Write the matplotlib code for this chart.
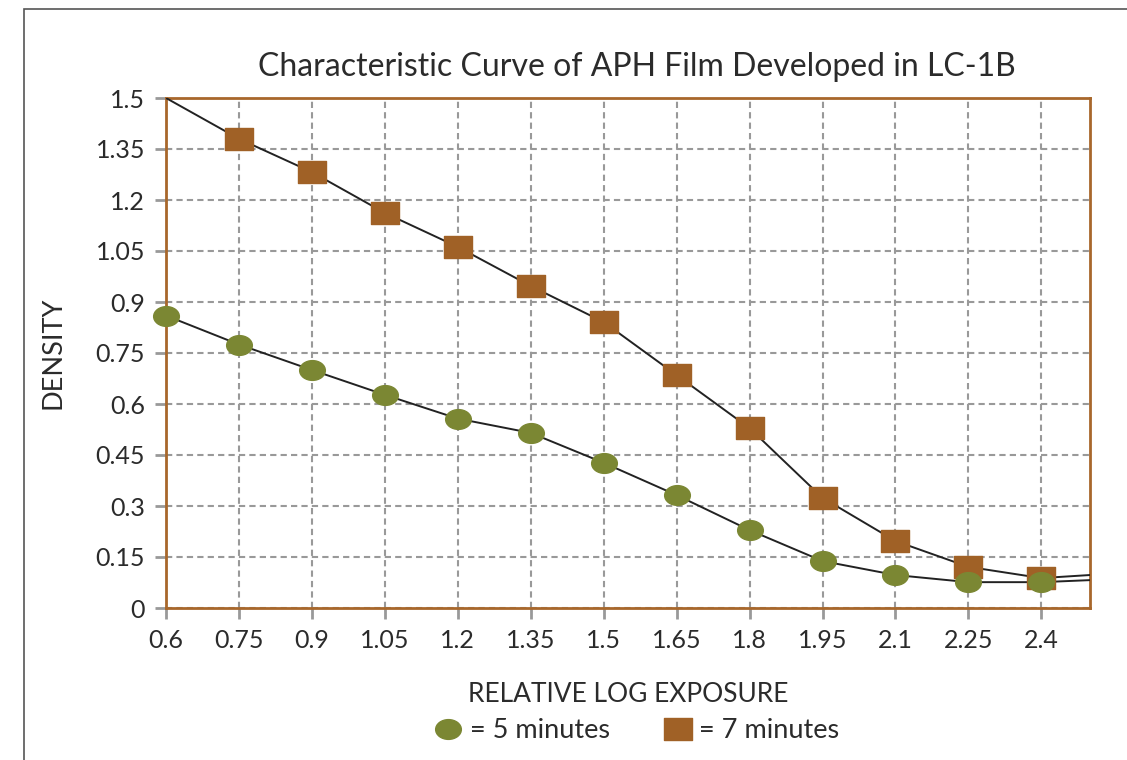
import numpy as np
import matplotlib.pyplot as plt
from matplotlib.path import Path
from matplotlib.patches import Rectangle
from matplotlib.lines import Line2D
import matplotlib.transforms as mtransforms

plt.rcParams['font.family'] = ['Lato', 'DejaVu Sans']

# data
x_5min = [0.6, 0.75, 0.9, 1.05, 1.2, 1.35, 1.5, 1.65, 1.8, 1.95, 2.1, 2.25, 2.4]
d_5min = [0.86, 0.775, 0.70, 0.627, 0.557, 0.515, 0.427, 0.332, 0.229, 0.138, 0.097, 0.076, 0.076]
x_7min = [0.75, 0.9, 1.05, 1.2, 1.35, 1.5, 1.65, 1.8, 1.95, 2.1, 2.25, 2.4]
d_7min = [1.38, 1.282, 1.162, 1.062, 0.947, 0.841, 0.685, 0.529, 0.324, 0.197, 0.121, 0.088]
# curve ends (no markers drawn there)
line7_start = (0.6, 1.5)
line7_end = (2.5, 0.097)
line5_end = (2.5, 0.082)

xticks = [0.6, 0.75, 0.9, 1.05, 1.2, 1.35, 1.5, 1.65, 1.8, 1.95, 2.1, 2.25, 2.4]
xtick_labels = ['0.6', '0.75', '0.9', '1.05', '1.2', '1.35', '1.5', '1.65', '1.8', '1.95', '2.1', '2.25', '2.4']
yticks = [0, 0.15, 0.3, 0.45, 0.6, 0.75, 0.9, 1.05, 1.2, 1.35, 1.5]
ytick_labels = ['0', '0.15', '0.3', '0.45', '0.6', '0.75', '0.9', '1.05', '1.2', '1.35', '1.5']

green = '#7b8733'
brown = '#a06126'
frame = '#a8672b'
text_c = '#2b2b2b'
grid_c = '#999999'

ellipse = Path.unit_circle().transformed(mtransforms.Affine2D().scale(1.3, 1.0))
rect = Path([(-1, -0.82), (1, -0.82), (1, 0.82), (-1, 0.82), (-1, -0.82)],
            [Path.MOVETO, Path.LINETO, Path.LINETO, Path.LINETO, Path.CLOSEPOLY])

fig = plt.figure(figsize=(11.27, 7.6), dpi=100)
fig.patches.append(Rectangle((24 / 1127, -0.1), 1.2, 1 - 9 / 760 + 0.1,
                             transform=fig.transFigure, fill=False,
                             edgecolor='#555555', linewidth=1.2))

ax = fig.add_axes([166 / 1127, 1 - 608 / 760, (1090 - 166) / 1127, (608 - 98) / 760])

ax.plot([line7_start[0]] + x_7min + [line7_end[0]],
        [line7_start[1]] + d_7min + [line7_end[1]], color='#222222', lw=1.4, zorder=3)
ax.plot(x_5min + [line5_end[0]], d_5min + [line5_end[1]], color='#222222', lw=1.4, zorder=3)
ax.plot(x_7min, d_7min, ls='none', marker=rect, ms=19.5, color=brown, zorder=4, clip_on=False)
ax.plot(x_5min, d_5min, ls='none', marker=ellipse, ms=18.5, color=green, zorder=5, clip_on=False)

ax.set_xlim(0.6, 2.5)
ax.set_ylim(0, 1.5)
ax.set_xticks(xticks)
ax.set_xticklabels(xtick_labels)
ax.set_yticks(yticks)
ax.set_yticklabels(ytick_labels)
ax.grid(True, color=grid_c, ls=(0, (3, 2)), lw=1.5)
ax.set_axisbelow(True)
for s in ax.spines.values():
    s.set_color(frame)
    s.set_linewidth(2)
ax.tick_params(axis='both', colors=grid_c, length=8, width=2, labelsize=18,
               labelcolor=text_c, pad=7)

ax.set_title('Characteristic Curve of APH Film Developed in LC-1B', fontsize=23,
             color=text_c, pad=16, x=0.51)
ax.set_ylabel('DENSITY', fontsize=19.5, color=text_c, labelpad=22)
ax.set_xlabel('RELATIVE LOG EXPOSURE', fontsize=19, color=text_c, labelpad=22)

handles = [Line2D([], [], ls='none', marker=ellipse, ms=18.5, color=green),
           Line2D([], [], ls='none', marker=rect, ms=19.5, color=brown)]
fig.legend(handles, ['= 5 minutes', '= 7 minutes'], loc='center',
           bbox_to_anchor=(637 / 1127, 1 - 731 / 760), ncol=2, frameon=False,
           fontsize=19.5, handletextpad=0.3, columnspacing=2.0, handlelength=1.0,
           labelcolor=text_c)

fig.savefig('out.png', dpi=100)
